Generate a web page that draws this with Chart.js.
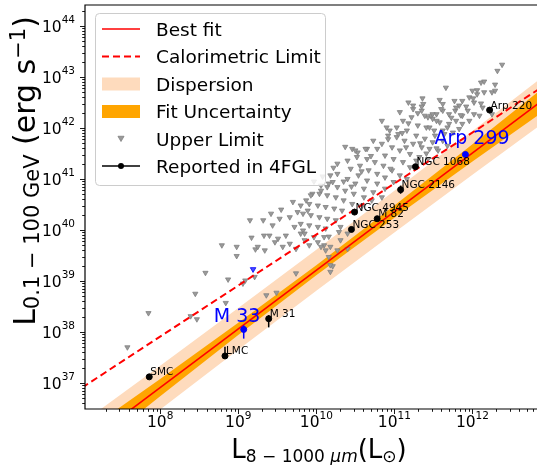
<!DOCTYPE html>
<html>
<head>
<meta charset="utf-8">
<script src="https://cdn.jsdelivr.net/npm/chart.js@4.4.1/dist/chart.umd.min.js"></script>
<style>
  html, body { margin: 0; padding: 0; background: #fff; }
</style>
</head>
<body>
<canvas id="c" width="542" height="465"></canvas>
<script>
// all values are log10
const xRange = [7.037, 12.827]   // L_IR (Lsun)
const yRange = [36.49, 44.41]    // L_gamma (erg/s)
const xTickExp = [8, 9, 10, 11, 12]
const yTickExp = [37, 38, 39, 40, 41, 42, 43, 44]

const calLogIR = [7, 13]
const calLogG = [36.91, 42.91]
const fitLogIR = [7, 13]
const fitLogG = [35.76, 42.66]

const bandLogIR = [7, 8, 9, 10, 11, 12, 13]
const uncLo = [35.52, 36.74, 37.94, 39.11, 40.24, 41.34, 42.42]
const uncHi = [36.00, 37.08, 38.18, 39.31, 40.48, 41.68, 42.90]
const disLo = [35.30, 36.48, 37.65, 38.81, 39.95, 41.08, 42.20]
const disHi = [36.22, 37.34, 38.47, 39.61, 40.77, 41.94, 43.12]

const srcName = ['SMC', 'LMC', 'M 33', 'M 31', 'NGC 253', 'NGC 4945', 'M 82', 'NGC 2146', 'NGC 1068', 'Arp 299', 'Arp 220']
const srcLogIR = [7.86, 8.83, 9.07, 9.39, 10.45, 10.49, 10.78, 11.08, 11.27, 11.91, 12.22]
const srcLogG = [37.12, 37.53, 38.05, 38.26, 40.01, 40.35, 40.22, 40.79, 41.24, 41.48, 42.35]
const errLo = [37.12, 37.53, 37.87, 38.09, 39.96, 40.30, 40.17, 40.71, 41.20, 41.45, 42.35]
const errHi = [37.12, 37.71, 38.13, 38.33, 40.06, 40.40, 40.27, 40.87, 41.28, 41.51, 42.35]
const srcBlue = ['M 33', 'Arp 299']

const blueUlLogIR = [9.19]
const blueUlLogG = [39.23]

const ulLogIR = [
  7.58, 7.85, 8.39, 8.47, 8.45, 8.58, 8.84, 8.87, 8.79, 8.98, 8.98, 9.17, 9.33, 9.06, 9.09, 9.21, 9.15, 9.22, 9.34, 9.36,
  9.49, 9.74, 10.10, 10.18, 10.21, 10.16, 10.29, 10.12, 10.18, 10.02, 9.85, 9.80, 9.32, 9.42, 9.55, 9.70, 9.76, 9.66, 9.53, 9.44,
  9.40, 9.51, 9.61, 9.72, 9.83, 9.47, 9.66, 9.25, 9.57, 9.74, 9.80, 9.89, 9.87, 9.95, 10.06, 10.14, 10.21, 10.27, 10.37, 10.46,
  10.53, 10.40, 12.38, 12.32, 12.29, 12.11, 12.15, 12.25, 12.00, 12.06, 11.96, 11.87, 11.77, 11.83, 12.02, 12.11, 12.13, 11.94, 12.02, 11.87,
  11.78, 11.70, 11.58, 11.62, 11.54, 11.37, 11.35, 11.43, 11.49, 11.58, 11.70, 11.79, 11.87, 11.96, 11.75, 11.62, 11.51, 11.41, 11.30, 11.22,
  11.24, 11.18, 11.07, 11.11, 11.03, 11.16, 11.28, 11.39, 11.49, 11.62, 11.68, 11.56, 11.45, 11.35, 11.24, 11.13, 11.03, 10.92, 10.90, 10.84,
  10.97, 11.07, 11.20, 11.32, 11.43, 10.73, 10.78, 10.88, 10.99, 11.11, 11.20, 10.65, 10.65, 10.75, 10.86, 10.97, 11.07, 11.16, 10.52, 10.56,
  10.67, 10.78, 10.88, 10.99, 10.44, 10.54, 10.65, 10.78, 10.88, 10.27, 10.40, 10.50, 10.61, 10.73, 10.84, 10.18, 10.16, 10.27, 10.37, 10.48,
  10.61, 10.71, 10.06, 10.04, 10.14, 10.25, 10.35, 10.46, 10.59, 9.93, 9.91, 10.02, 10.12, 10.23, 10.33, 9.83, 9.93, 10.04, 10.14, 10.25,
  9.80, 9.91, 10.02, 10.12, 9.85, 9.97, 10.10, 9.91, 10.06, 10.18, 10.31, 10.40, 10.31, 10.27, 10.40, 10.16, 11.66, 11.24, 11.36, 12.01,
  11.60, 11.79, 11.92, 11.47, 12.09, 12.25, 11.54, 11.45, 11.68, 11.83, 12.15, 12.29, 12.06,
  11.62, 11.35, 11.30, 11.39, 11.49, 11.18, 10.94, 11.05, 10.84, 10.50, 10.63, 11.28, 11.54, 11.41, 11.64, 11.73, 11.15, 10.95, 10.70, 10.58,
  10.35, 10.22, 10.08, 9.97, 10.45, 10.92, 11.10, 11.33, 11.52, 11.85
]
const ulLogG = [
  37.70, 38.37, 38.31, 38.25, 38.75, 39.16, 38.57, 39.03, 39.70, 39.67, 39.49, 39.85, 39.89, 38.95, 39.01, 39.08, 40.19, 39.62, 39.60, 38.72,
  38.77, 39.15, 39.70, 39.18, 39.29, 39.87, 39.96, 39.60, 39.31, 39.76, 39.80, 39.93, 40.19, 40.32, 40.40, 40.55, 40.35, 40.25, 40.22, 40.09,
  39.89, 39.83, 39.89, 40.06, 39.99, 39.76, 39.73, 39.67, 39.67, 39.63, 40.48, 40.38, 40.58, 40.71, 40.77, 40.84, 40.94, 41.10, 41.63, 41.59,
  41.52, 41.36, 43.24, 43.12, 42.85, 42.89, 42.70, 42.70, 42.73, 42.66, 42.60, 42.53, 42.53, 42.44, 42.50, 42.48, 42.40, 42.34, 42.27, 42.24,
  42.34, 42.27, 42.55, 42.34, 42.27, 42.47, 42.34, 42.21, 42.18, 42.11, 42.08, 42.14, 42.08, 42.14, 41.91, 41.95, 41.95, 42.01, 42.05, 42.21,
  42.37, 42.50, 42.31, 42.14, 42.01, 41.95, 41.85, 41.79, 41.72, 41.75, 41.65, 41.56, 41.59, 41.62, 41.69, 41.75, 41.82, 41.85, 42.01, 42.14,
  41.62, 41.56, 41.49, 41.43, 41.39, 41.75, 41.59, 41.46, 41.39, 41.33, 41.23, 41.59, 41.39, 41.33, 41.26, 41.17, 41.07, 41.00, 41.43, 41.26,
  41.17, 41.10, 41.03, 40.94, 41.20, 41.07, 40.97, 40.91, 40.81, 41.30, 41.00, 40.91, 40.81, 40.74, 40.64, 41.07, 40.91, 40.84, 40.77, 40.71,
  40.64, 40.58, 40.87, 40.71, 40.68, 40.64, 40.58, 40.51, 40.48, 40.68, 40.51, 40.48, 40.45, 40.42, 40.38, 40.32, 40.29, 40.25, 40.22, 40.19,
  40.12, 40.09, 40.06, 40.03, 39.93, 39.86, 39.86, 39.70, 39.67, 39.67, 40.06, 39.93, 39.80, 39.60, 39.63, 39.47, 42.79, 42.44, 42.58, 42.58,
  42.37, 42.40, 42.42, 42.24, 42.24, 42.27, 42.14, 42.01, 42.01, 41.98, 42.91, 42.73, 42.74,
  42.47, 42.42, 42.29, 42.24, 42.27, 42.09, 41.95, 41.88, 41.69, 41.56, 41.59, 41.36, 41.60, 41.50, 41.88, 42.20, 41.62, 41.20, 41.45, 41.15,
  40.95, 41.22, 41.05, 40.95, 40.85, 41.78, 41.90, 41.70, 41.85, 42.25
]

const FONT = '"DejaVu Sans", sans-serif'
const font = (size, italic) => (italic ? 'italic ' : '') + size + 'px ' + FONT
const P = v => Math.pow(10, v)
const pts = (xs, ys) => xs.map((v, i) => ({ x: P(v), y: P(ys[i]) }))

// text with sub/superscripts: parts = [text, size, dy, italic]
function rich(ctx, parts, x, y, align) {
  let w = 0
  for (const p of parts) { ctx.font = font(p[1], p[3]); w += ctx.measureText(p[0]).width }
  let cx = align === 'center' ? x - w / 2 : (align === 'right' ? x - w : x)
  ctx.textAlign = 'left'
  ctx.textBaseline = 'alphabetic'
  for (const p of parts) {
    ctx.font = font(p[1], p[3])
    ctx.fillText(p[0], cx, y + (p[2] || 0))
    cx += ctx.measureText(p[0]).width
  }
}

function downTri(ctx, cx, cy, r, fill, edge) {
  ctx.beginPath()
  ctx.moveTo(cx - r * 0.87, cy - r * 0.5)
  ctx.lineTo(cx + r * 0.87, cy - r * 0.5)
  ctx.lineTo(cx, cy + r)
  ctx.closePath()
  ctx.fillStyle = fill; ctx.fill()
  ctx.strokeStyle = edge; ctx.lineWidth = 0.8; ctx.stroke()
}

const labelOffset = {
  'M 33': [-30, -7], 'Arp 299': [-31, -10]
}

const deco = {
  id: 'deco',
  afterDatasetsDraw(chart) {
    const { ctx, chartArea: a, scales: { x, y } } = chart
    ctx.save()

    // error bars
    ctx.lineWidth = 1.5
    srcLogIR.forEach((lx, i) => {
      if (errLo[i] === errHi[i]) return
      const px = x.getPixelForValue(P(lx))
      ctx.strokeStyle = srcBlue.includes(srcName[i]) ? '#0000ff' : '#000'
      ctx.beginPath()
      ctx.moveTo(px, y.getPixelForValue(P(errLo[i])))
      ctx.lineTo(px, y.getPixelForValue(P(errHi[i])))
      ctx.stroke()
    })

    // source labels
    srcName.forEach((n, i) => {
      const px = x.getPixelForValue(P(srcLogIR[i]))
      const py = y.getPixelForValue(P(srcLogG[i]))
      ctx.textAlign = 'left'
      ctx.textBaseline = 'alphabetic'
      if (srcBlue.includes(n)) {
        ctx.fillStyle = '#0000ff'
        ctx.font = font(19)
        ctx.fillText(n, px + labelOffset[n][0], py + labelOffset[n][1])
      } else {
        ctx.fillStyle = '#000'
        ctx.font = font(10.5)
        ctx.fillText(n, px + 1, py - 1.5)
      }
    })

    // frame
    ctx.strokeStyle = '#000'
    ctx.lineWidth = 1.2
    ctx.beginPath()
    ctx.moveTo(a.right, a.top); ctx.lineTo(a.left, a.top); ctx.lineTo(a.left, a.bottom); ctx.lineTo(a.right, a.bottom)
    ctx.stroke()

    // ticks
    ctx.lineWidth = 0.9
    ctx.beginPath()
    for (let e = Math.floor(xRange[0]); e <= Math.ceil(xRange[1]); e++) {
      for (let k = 1; k <= 9; k++) {
        const v = k * P(e)
        if (v < P(xRange[0]) || v > P(xRange[1])) continue
        const px = Math.round(x.getPixelForValue(v)) + 0.5
        const len = k === 1 ? 5 : 2.8
        ctx.moveTo(px, a.bottom); ctx.lineTo(px, a.bottom + len)
      }
    }
    for (let e = Math.floor(yRange[0]); e <= Math.ceil(yRange[1]); e++) {
      for (let k = 1; k <= 9; k++) {
        const v = k * P(e)
        if (v < P(yRange[0]) || v > P(yRange[1])) continue
        const py = Math.round(y.getPixelForValue(v)) + 0.5
        const len = k === 1 ? 5 : 2.8
        ctx.moveTo(a.left, py); ctx.lineTo(a.left - len, py)
      }
    }
    ctx.stroke()

    // tick labels
    ctx.fillStyle = '#000'
    xTickExp.forEach(e => {
      rich(ctx, [['10', 15.5, 0], [String(e), 10.5, -8.5]], x.getPixelForValue(P(e)), a.bottom + 18, 'center')
    })
    yTickExp.forEach(e => {
      rich(ctx, [['10', 15.5, 0], [String(e), 10.5, -8.5]], 75, y.getPixelForValue(P(e)) + 6, 'right')
    })

    // axis titles
    rich(ctx, [['L', 26, 0], ['8 − 1000 ', 17, 4], ['μm', 17, 4, true], ['(L', 26, 0], ['⊙', 17, 4], [')', 26, 0]],
      319, 458, 'center')
    ctx.save()
    ctx.translate(35, 171)
    ctx.rotate(-Math.PI / 2)
    rich(ctx, [['L', 30, 0], ['0.1 − 100 GeV', 21, 3.5], [' (erg s', 30, 0], ['−1', 21, -10], [')', 30, 0]], 0, 0, 'center')
    ctx.restore()

    // legend
    const lx = 95, ly = 13, lw = 230, lh = 172
    ctx.beginPath()
    ctx.roundRect(lx + 0.5, ly + 0.5, lw, lh, 4)
    ctx.fillStyle = 'rgba(255,255,255,0.85)'
    ctx.fill()
    ctx.strokeStyle = '#cccccc'
    ctx.lineWidth = 1
    ctx.stroke()
    const rows = [29, 56.5, 84, 111.5, 139, 166]
    const hx0 = 102, hx1 = 140, tx = 156
    ctx.lineWidth = 1.6
    ctx.strokeStyle = '#ff0000'
    ctx.beginPath(); ctx.moveTo(hx0, rows[0]); ctx.lineTo(hx1, rows[0]); ctx.stroke()
    ctx.lineWidth = 2
    ctx.setLineDash([7, 4])
    ctx.beginPath(); ctx.moveTo(hx0, rows[1]); ctx.lineTo(hx1, rows[1]); ctx.stroke()
    ctx.setLineDash([])
    ctx.fillStyle = '#fedbbd'; ctx.fillRect(hx0, rows[2] - 6.5, hx1 - hx0, 13)
    ctx.fillStyle = '#ffa500'; ctx.fillRect(hx0, rows[3] - 6.5, hx1 - hx0, 13)
    downTri(ctx, 121, rows[4] - 1, 3.5, '#9a9a9a', '#808080')
    ctx.strokeStyle = '#000'; ctx.lineWidth = 1.5
    ctx.beginPath(); ctx.moveTo(hx0, rows[5]); ctx.lineTo(hx1, rows[5]); ctx.stroke()
    ctx.fillStyle = '#000'
    ctx.beginPath(); ctx.arc(121, rows[5], 3, 0, Math.PI * 2); ctx.fill()
    const texts = ['Best fit', 'Calorimetric Limit', 'Dispersion', 'Fit Uncertainty', 'Upper Limit', 'Reported in 4FGL']
    ctx.font = font(18.5)
    ctx.textAlign = 'left'
    ctx.textBaseline = 'alphabetic'
    texts.forEach((t, i) => ctx.fillText(t, tx, rows[i] + 6.8))

    ctx.restore()
  }
}

const srcColors = srcName.map(n => srcBlue.includes(n) ? '#0000ff' : '#000000')

new Chart(document.getElementById('c'), {
  type: 'scatter',
  data: {
    datasets: [
      { data: pts(bandLogIR, disLo), showLine: true, borderWidth: 0, borderColor: 'transparent', pointRadius: 0, order: 20 },
      { data: pts(bandLogIR, disHi), showLine: true, borderWidth: 0, borderColor: 'transparent', pointRadius: 0,
        fill: '-1', backgroundColor: '#fedbbd', order: 19 },
      { data: pts(bandLogIR, uncLo), showLine: true, borderWidth: 0, borderColor: 'transparent', pointRadius: 0, order: 18 },
      { data: pts(bandLogIR, uncHi), showLine: true, borderWidth: 0, borderColor: 'transparent', pointRadius: 0,
        fill: '-1', backgroundColor: '#ffa500', order: 17 },
      { data: pts(ulLogIR, ulLogG), pointStyle: 'triangle', rotation: 180, pointRadius: 3,
        backgroundColor: '#9a9a9a', borderColor: '#808080', borderWidth: 0.8, order: 10 },
      { data: pts(calLogIR, calLogG), showLine: true, borderColor: '#ff0000', borderWidth: 2, borderDash: [7, 4],
        pointRadius: 0, order: 5 },
      { data: pts(fitLogIR, fitLogG), showLine: true, borderColor: '#ff0000', borderWidth: 1.6, pointRadius: 0, order: 4 },
      { data: pts(blueUlLogIR, blueUlLogG), pointStyle: 'triangle', rotation: 180, pointRadius: 3.2,
        backgroundColor: '#4a4aff', borderColor: '#0000ff', borderWidth: 0.8, order: 3 },
      { data: pts(srcLogIR, srcLogG), pointRadius: 3, backgroundColor: srcColors, borderColor: srcColors, order: 1 }
    ]
  },
  options: {
    responsive: false,
    animation: false,
    devicePixelRatio: 1,
    events: [],
    layout: { padding: { left: 85, top: 4, right: 0, bottom: 56 } },
    plugins: { legend: { display: false }, tooltip: { enabled: false } },
    scales: {
      x: { type: 'logarithmic', display: false, min: P(xRange[0]), max: P(xRange[1]) },
      y: { type: 'logarithmic', display: false, min: P(yRange[0]), max: P(yRange[1]) }
    }
  },
  plugins: [deco]
})
</script>
</body>
</html>
